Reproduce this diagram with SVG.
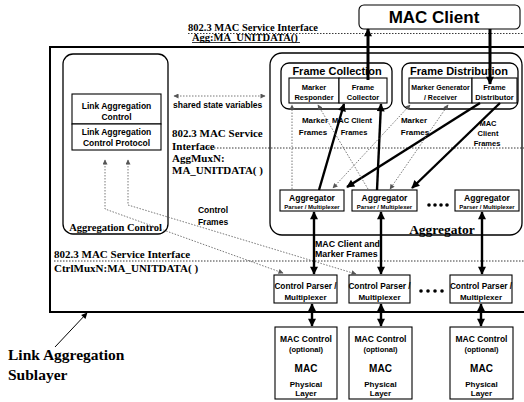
<svg xmlns="http://www.w3.org/2000/svg" width="524" height="402" viewBox="0 0 524 402">
<defs>
<style>
.bx{fill:#fff;stroke:#000;stroke-width:1.1}
.rb{fill:none;stroke:#000;stroke-width:1.3}
.s{font-family:"Liberation Sans",Arial,sans-serif;font-weight:bold;fill:#000;text-anchor:middle}
.sl{font-family:"Liberation Sans",Arial,sans-serif;font-weight:bold;fill:#000}
.r{font-family:"Liberation Serif","Times New Roman",serif;font-weight:bold;fill:#000}
.thk{stroke:#000;stroke-width:2.4;fill:none}
.big{stroke:#000;stroke-width:3;fill:none}
.dot{stroke:#555;stroke-width:0.8;stroke-dasharray:1.5 1.5;fill:none}
.ifl{stroke:#222;stroke-width:0.9;stroke-dasharray:1.5 1.5;fill:none}
</style>
<marker id="ah" viewBox="0 0 10 10" refX="9" refY="5" markerWidth="10" markerHeight="8" markerUnits="userSpaceOnUse" orient="auto-start-reverse"><path d="M0,0 L10,5 L0,10 z" fill="#000"/></marker>
<marker id="as" viewBox="0 0 10 10" refX="9" refY="5" markerWidth="6" markerHeight="5" markerUnits="userSpaceOnUse" orient="auto-start-reverse"><path d="M0,0 L10,5 L0,10 z" fill="#555"/></marker>
<marker id="am" viewBox="0 0 10 10" refX="9" refY="5" markerWidth="7" markerHeight="6" markerUnits="userSpaceOnUse" orient="auto"><path d="M0,0 L10,5 L0,10 z" fill="#000"/></marker>
</defs>
<rect width="524" height="402" fill="#fff"/>

<g id="sublayer">
<path d="M530,47 H50 V312 H530" fill="none" stroke="#000" stroke-width="2"/>
<text class="r" x="8" y="360" font-size="15.5">Link Aggregation</text>
<text class="r" x="8" y="380" font-size="15.5">Sublayer</text>
</g>

<g id="interfaces">
<line class="ifl" x1="188" y1="33.5" x2="524" y2="33.5"/>
<text class="r" x="188" y="31" font-size="10.5">802.3 MAC Service Interface</text>
<text class="r" x="192" y="41" font-size="10.5">Agg:MA_UNITDATA()</text>
<line x1="192" y1="42.5" x2="300" y2="42.5" stroke="#000" stroke-width="0.8"/>
<text class="r" x="172" y="137" font-size="11">802.3 MAC Service</text>
<text class="r" x="172" y="150" font-size="11">Interface</text>
<line class="ifl" x1="205" y1="148" x2="524" y2="148"/>
<text class="r" x="172" y="162" font-size="11">AggMuxN:</text>
<text class="r" x="172" y="174" font-size="11">MA_UNITDATA( )</text>
<text class="r" x="54" y="258" font-size="11">802.3 MAC Service Interface</text>
<line class="ifl" x1="54" y1="261" x2="524" y2="261"/>
<text class="r" x="54" y="272" font-size="11">CtrlMuxN:MA_UNITDATA( )</text>
<text class="sl" x="173" y="108" font-size="8.5">shared state variables</text>
</g>

<g id="mac-client">
<rect class="bx" x="359" y="5" width="161" height="24" rx="5"/>
<text class="s" x="434" y="23" font-size="17">MAC Client</text>
</g>

<g id="aggregation-control">
<rect class="rb" x="63" y="54" width="105" height="180" rx="10"/>
<text class="r" x="115.5" y="231" font-size="10.5" text-anchor="middle">Aggregation Control</text>
<rect class="bx" x="72" y="94" width="89" height="30"/>
<text class="s" x="116.5" y="108.5" font-size="8.5">Link Aggregation</text>
<text class="s" x="116.5" y="119.5" font-size="8.5">Control</text>
<rect class="bx" x="72" y="124" width="89" height="26"/>
<text class="s" x="116.5" y="134.5" font-size="8.5">Link Aggregation</text>
<text class="s" x="116.5" y="145.5" font-size="8.5">Control Protocol</text>
</g>

<g id="aggregator">
<rect class="rb" x="270" y="53" width="252" height="182" rx="12"/>
<text class="r" x="442" y="234" font-size="13.5" text-anchor="middle">Aggregator</text>
</g>

<g id="frame-collection">
<rect class="rb" x="281" y="63" width="111" height="46" rx="8"/>
<text class="s" x="337" y="75" font-size="11">Frame Collection</text>
<rect class="bx" x="289" y="78" width="50" height="25"/>
<text class="s" x="314" y="89.5" font-size="7.5">Marker</text>
<text class="s" x="314" y="100" font-size="7.5">Responder</text>
<rect class="bx" x="339" y="78" width="48" height="25"/>
<text class="s" x="363" y="89.5" font-size="7.5">Frame</text>
<text class="s" x="363" y="100" font-size="7.5">Collector</text>
</g>

<g id="frame-distribution">
<rect class="rb" x="402" y="63" width="116" height="46" rx="8"/>
<text class="s" x="459" y="75" font-size="11">Frame Distribution</text>
<rect class="bx" x="409" y="78" width="63" height="25"/>
<text class="s" x="440.5" y="89.5" font-size="7">Marker Generator</text>
<text class="s" x="440.5" y="100" font-size="7">/ Receiver</text>
<rect class="bx" x="472" y="78" width="45" height="25"/>
<text class="s" x="494.5" y="89.5" font-size="7.5">Frame</text>
<text class="s" x="494.5" y="100" font-size="7.5">Distributor</text>
</g>

<g id="agg-mux-1">
<rect class="bx" x="280" y="190" width="64" height="21"/>
<text class="s" x="312" y="200.5" font-size="8.5">Aggregator</text>
<text class="s" x="312" y="208.5" font-size="6">Parser / Multiplexer</text>
</g>
<g id="agg-mux-2">
<rect class="bx" x="352" y="190" width="65" height="21"/>
<text class="s" x="384.5" y="200.5" font-size="8.5">Aggregator</text>
<text class="s" x="384.5" y="208.5" font-size="6">Parser / Multiplexer</text>
</g>
<g id="agg-dots">
<circle cx="429" cy="205" r="1.8"/><circle cx="435" cy="205" r="1.8"/><circle cx="441" cy="205" r="1.8"/><circle cx="447" cy="205" r="1.8"/>
</g>
<g id="agg-mux-n">
<rect class="bx" x="455" y="190" width="64" height="21"/>
<text class="s" x="487" y="200.5" font-size="8.5">Aggregator</text>
<text class="s" x="487" y="208.5" font-size="6">Parser / Multiplexer</text>
</g>

<g id="ctrl-mux-1">
<rect class="bx" x="274" y="275" width="63" height="28"/>
<text class="s" x="305.5" y="289" font-size="8.3">Control Parser /</text>
<text class="s" x="305.5" y="300" font-size="8">Multiplexer</text>
</g>
<g id="ctrl-mux-2">
<rect class="bx" x="349" y="275" width="61" height="28"/>
<text class="s" x="379.5" y="289" font-size="8.3">Control Parser /</text>
<text class="s" x="379.5" y="300" font-size="8">Multiplexer</text>
</g>
<g id="ctrl-dots">
<circle cx="421" cy="291" r="1.8"/><circle cx="428" cy="291" r="1.8"/><circle cx="435" cy="291" r="1.8"/><circle cx="442" cy="291" r="1.8"/>
</g>
<g id="ctrl-mux-n">
<rect class="bx" x="450" y="275" width="62" height="28"/>
<text class="s" x="481" y="289" font-size="8.3">Control Parser /</text>
<text class="s" x="481" y="300" font-size="8">Multiplexer</text>
</g>

<g id="mac-1">
<rect class="bx" x="275" y="327" width="62" height="72"/>
<text class="s" x="306" y="342" font-size="8.5">MAC Control</text>
<text class="s" x="306" y="352" font-size="7.5">(optional)</text>
<text class="s" x="306" y="371.5" font-size="10">MAC</text>
<text class="s" x="306" y="387" font-size="8">Physical</text>
<text class="s" x="306" y="396" font-size="8">Layer</text>
</g>
<g id="mac-2">
<rect class="bx" x="349" y="327" width="63" height="72"/>
<text class="s" x="380.5" y="342" font-size="8.5">MAC Control</text>
<text class="s" x="380.5" y="352" font-size="7.5">(optional)</text>
<text class="s" x="380.5" y="371.5" font-size="10">MAC</text>
<text class="s" x="380.5" y="387" font-size="8">Physical</text>
<text class="s" x="380.5" y="396" font-size="8">Layer</text>
</g>
<g id="mac-n">
<rect class="bx" x="450" y="327" width="63" height="72"/>
<text class="s" x="481.5" y="342" font-size="8.5">MAC Control</text>
<text class="s" x="481.5" y="352" font-size="7.5">(optional)</text>
<text class="s" x="481.5" y="371.5" font-size="10">MAC</text>
<text class="s" x="481.5" y="387" font-size="8">Physical</text>
<text class="s" x="481.5" y="396" font-size="8">Layer</text>
</g>

<g id="connectors">
<line class="dot" x1="174" y1="96" x2="265" y2="96" marker-start="url(#as)" marker-end="url(#as)"/>
<line class="big" x1="368" y1="80" x2="368" y2="29" marker-end="url(#ah)"/>
<line class="big" x1="490" y1="29" x2="490" y2="84" marker-end="url(#ah)"/>
<line class="thk" x1="319" y1="190" x2="344" y2="104" marker-end="url(#ah)"/>
<line class="thk" x1="377" y1="190" x2="381" y2="104" marker-end="url(#ah)"/>
<line class="thk" x1="480" y1="103" x2="347" y2="187" marker-end="url(#ah)"/>
<line class="thk" x1="500" y1="103" x2="412" y2="188" marker-end="url(#ah)"/>
<line class="dot" x1="292" y1="189" x2="292" y2="105" marker-end="url(#as)"/>
<line class="dot" x1="368" y1="189" x2="318" y2="105" marker-end="url(#as)"/>
<line class="dot" x1="410" y1="105" x2="333" y2="188" marker-start="url(#as)" marker-end="url(#as)"/>
<line class="dot" x1="448" y1="105" x2="390" y2="189" marker-start="url(#as)" marker-end="url(#as)"/>
<polyline class="dot" points="105,160 105,209 283,273" marker-start="url(#as)" marker-end="url(#as)"/>
<polyline class="dot" points="128,160 128,205 356,274" marker-start="url(#as)" marker-end="url(#as)"/>
<line class="thk" x1="314" y1="212" x2="314" y2="274" marker-start="url(#ah)" marker-end="url(#ah)"/>
<line class="thk" x1="381" y1="212" x2="381" y2="274" marker-start="url(#ah)" marker-end="url(#ah)"/>
<line class="thk" x1="482" y1="212" x2="482" y2="274" marker-start="url(#ah)" marker-end="url(#ah)"/>
<line class="thk" x1="312" y1="304" x2="312" y2="326" marker-start="url(#ah)" marker-end="url(#ah)"/>
<line class="thk" x1="381" y1="304" x2="381" y2="326" marker-start="url(#ah)" marker-end="url(#ah)"/>
<line class="thk" x1="481" y1="304" x2="481" y2="326" marker-start="url(#ah)" marker-end="url(#ah)"/>
<line x1="55" y1="347" x2="87" y2="313" stroke="#000" stroke-width="1" marker-end="url(#am)"/>
</g>

<g id="labels">
<text class="s" x="315" y="123" font-size="8">Marker</text>
<text class="s" x="313" y="135" font-size="8">Frames</text>
<text class="s" x="352" y="123" font-size="7.5">MAC Client</text>
<text class="s" x="354" y="135" font-size="7.5">Frames</text>
<text class="s" x="414" y="123" font-size="8">Marker</text>
<text class="s" x="415" y="135" font-size="8">Frames</text>
<text class="s" x="488" y="126" font-size="7.5">MAC</text>
<text class="s" x="488" y="136" font-size="7.5">Client</text>
<text class="s" x="487" y="146" font-size="7.5">Frames</text>
<text class="s" x="213" y="213" font-size="8.5">Control</text>
<text class="s" x="213" y="225" font-size="8.5">Frames</text>
<text class="sl" x="315" y="247" font-size="8.8">MAC Client and</text>
<text class="sl" x="315" y="257" font-size="8.8">Marker Frames</text>
</g>
</svg>
